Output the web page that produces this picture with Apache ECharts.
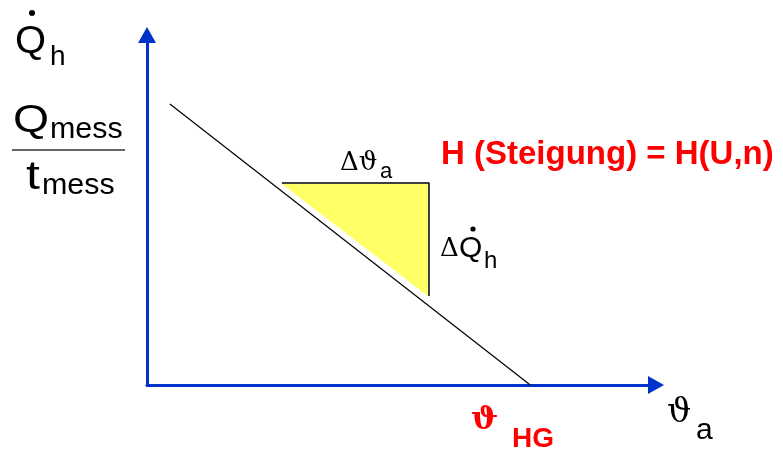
<!DOCTYPE html>
<html><head><meta charset="utf-8">
<script src="https://cdn.jsdelivr.net/npm/echarts@6/dist/echarts.min.js"></script>
<style>html,body{margin:0;padding:0;background:#fff}#c{width:783px;height:455px}</style>
</head><body><div id="c"></div>
<script>
// Data (axis units 0..100)
const lineX = [4.5, 75.3];
const lineY = [80.3, 0];
const triFillX = [26.5, 55.2, 55.2];
const triFillY = [57.4, 57.4, 25.4];
const triEdgeX = [26.5, 55.4, 55.4];
const triEdgeY = [57.7, 57.7, 25.4];
const blue = '#0033cc';
const sans = '"Liberation Sans", Arial, sans-serif';
const serif = '"DejaVu Serif", serif';

const chart = echarts.init(document.getElementById('c'), null, {renderer: 'canvas'});
function axis(){
  return {type:'value', min:0, max:100,
    axisLine:{show:true, symbol:['none','triangle'], symbolSize:[18,16], lineStyle:{color:blue, width:3}},
    axisTick:{show:false}, axisLabel:{show:false}, splitLine:{show:false}};
}
function txt(x,y,t,size,sx,opts){
  return {type:'text', x:x, y:y, scaleX:sx||1, style:Object.assign({text:t, font:'normal '+size+'px '+sans, fill:'#000', verticalAlign:'middle', align:'left'}, opts||{})};
}
const graphic = [
  txt(15,43,'Q',38,1.05), txt(50,57,'h',28),
  {type:'circle', shape:{cx:32, cy:13, r:3}, style:{fill:'#000'}},
  txt(13,122,'Q',38,1.22), txt(50,130,'mess',29,1.05),
  {type:'line', shape:{x1:12,y1:150,x2:125,y2:150}, style:{stroke:'#333', lineWidth:1.5}},
  txt(26,178,'t',40,1.25), txt(42,186,'mess',29,1.05),
  {type:'text', x:340, y:163, style:{text:'Δϑ', font:'normal 26px '+serif, fill:'#000', verticalAlign:'middle'}},
  txt(380,172,'a',22),
  {type:'text', x:440, y:249, style:{text:'Δ', font:'normal 26px '+serif, fill:'#000', verticalAlign:'middle'}},
  txt(459,249,'Q',30), txt(484,261,'h',24),
  {type:'circle', shape:{cx:473, cy:229, r:2.6}, style:{fill:'#000'}},
  {type:'text', x:441, y:155, style:{text:'H (Steigung) = H(U,n)', font:'bold 33px '+sans, fill:'#ff0000', verticalAlign:'middle'}},
  {type:'text', x:471, y:421, style:{text:'ϑ', font:'bold 32px '+serif, fill:'#ff0000', verticalAlign:'middle'}},
  {type:'text', x:512, y:439, style:{text:'HG', font:'bold 28px '+sans, fill:'#ff0000', verticalAlign:'middle'}},
  {type:'text', x:667, y:413, style:{text:'ϑ', font:'normal 34px '+serif, fill:'#000', verticalAlign:'middle'}},
  txt(696,431,'a',30)
];
chart.setOption({
  animation:false,
  grid:{left:147, right:127, top:35, bottom:70},
  xAxis:axis(), yAxis:axis(),
  graphic: graphic,
  series:[
    {type:'custom', renderItem:function(params, api){
        if (params.dataIndex !== 0) return;
        const pts = triFillX.map((x,i)=>api.coord([x, triFillY[i]]));
        return {type:'polygon', shape:{points:pts}, style:{fill:'#ffff66'}};
      }, data: triFillX.map((x,i)=>[x, triFillY[i]]), z:1},
    {type:'line', data: triEdgeX.map((x,i)=>[x, triEdgeY[i]]), symbol:'none', lineStyle:{color:'#000', width:1.5}, z:2},
    {type:'line', data: lineX.map((x,i)=>[x, lineY[i]]), symbol:'none', lineStyle:{color:'#000', width:1.2}, z:3}
  ]
});
</script></body></html>
